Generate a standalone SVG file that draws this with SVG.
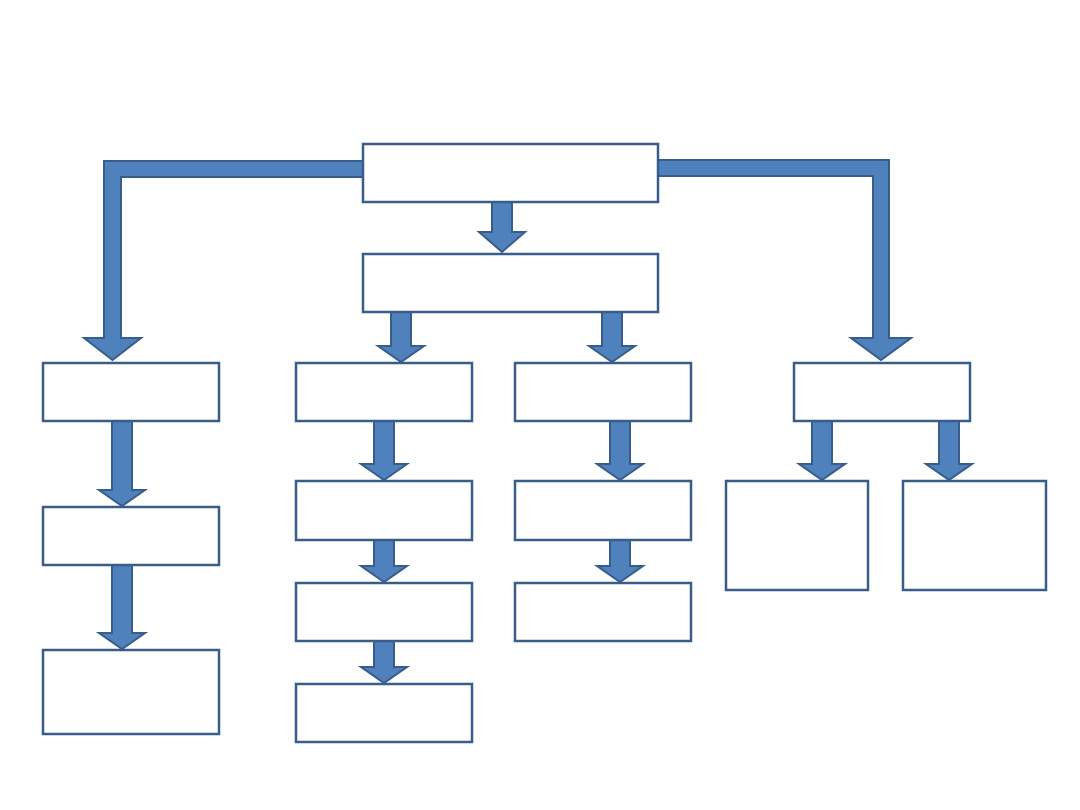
<svg xmlns="http://www.w3.org/2000/svg" width="1080" height="810" viewBox="0 0 1080 810">
<style>
.box{fill:#FFFFFF;stroke:#385D8A;stroke-width:2.5}
.arr{fill:#4F81BD;stroke:#385D8A;stroke-width:2;stroke-linejoin:miter}
</style>
<rect x="0" y="0" width="1080" height="810" fill="#FFFFFF"/>
<g id="connectors">
<path class="arr" d="M363,161 L104,161 L104,338 L84,338 L112.5,360 L141,338 L121,338 L121,177 L363,177 Z"/>
<path class="arr" d="M658,160 L889,160 L889,338 L911,338 L881,360 L851,338 L873,338 L873,176 L658,176 Z"/>
<path class="arr" d="M492,202 L512,202 L512,232 L525,232 L502,252 L479,232 L492,232 Z"/>
<path class="arr" d="M391,312 L411,312 L411,346 L424,346 L401,362 L378,346 L391,346 Z"/>
<path class="arr" d="M602,312 L622,312 L622,346 L635,346 L612,362 L589,346 L602,346 Z"/>
<path class="arr" d="M112,421 L132,421 L132,490 L145,490 L122,506 L99,490 L112,490 Z"/>
<path class="arr" d="M112,565 L132,565 L132,633 L145,633 L122,649 L99,633 L112,633 Z"/>
<path class="arr" d="M374,421 L394,421 L394,464 L407,464 L384,480 L361,464 L374,464 Z"/>
<path class="arr" d="M374,540 L394,540 L394,566 L407,566 L384,582 L361,566 L374,566 Z"/>
<path class="arr" d="M374,641 L394,641 L394,667 L407,667 L384,683 L361,667 L374,667 Z"/>
<path class="arr" d="M610,421 L630,421 L630,464 L643,464 L620,480 L597,464 L610,464 Z"/>
<path class="arr" d="M610,540 L630,540 L630,566 L643,566 L620,582 L597,566 L610,566 Z"/>
<path class="arr" d="M812,421 L832,421 L832,464 L845,464 L822,480 L799,464 L812,464 Z"/>
<path class="arr" d="M939,421 L959,421 L959,464 L972,464 L949,480 L926,464 L939,464 Z"/>
</g>
<g id="node-top"><rect class="box" x="363" y="144" width="295" height="58"/></g>
<g id="node-second"><rect class="box" x="363" y="254" width="295" height="58"/></g>
<g id="node-a1"><rect class="box" x="43" y="363" width="176" height="58"/></g>
<g id="node-b1"><rect class="box" x="296" y="363" width="176" height="58"/></g>
<g id="node-c1"><rect class="box" x="515" y="363" width="176" height="58"/></g>
<g id="node-d1"><rect class="box" x="794" y="363" width="176" height="58"/></g>
<g id="node-a2"><rect class="box" x="43" y="507" width="176" height="58"/></g>
<g id="node-a3"><rect class="box" x="43" y="650" width="176" height="84"/></g>
<g id="node-b2"><rect class="box" x="296" y="481" width="176" height="59"/></g>
<g id="node-b3"><rect class="box" x="296" y="583" width="176" height="58"/></g>
<g id="node-b4"><rect class="box" x="296" y="684" width="176" height="58"/></g>
<g id="node-c2"><rect class="box" x="515" y="481" width="176" height="59"/></g>
<g id="node-c3"><rect class="box" x="515" y="583" width="176" height="58"/></g>
<g id="node-e"><rect class="box" x="726" y="481" width="142" height="109"/></g>
<g id="node-f"><rect class="box" x="903" y="481" width="143" height="109"/></g>
</svg>
